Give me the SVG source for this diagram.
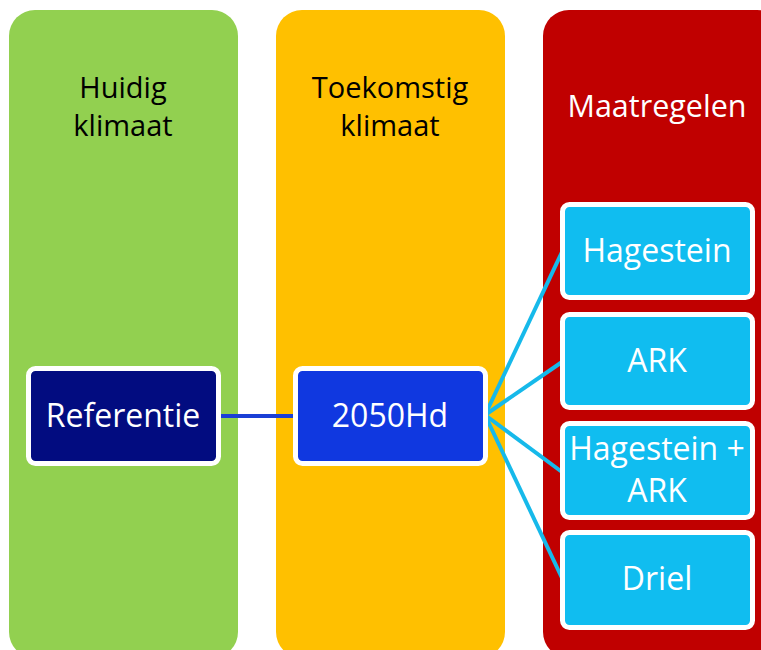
<svg xmlns="http://www.w3.org/2000/svg" width="761" height="650" viewBox="0 0 761 650">
<style>
.lane{stroke:none}
.t{font-family:"Open Sans","Noto Sans",sans-serif;text-anchor:middle}
.hd{font-size:29px;fill:#000}
.hw{font-size:30.5px;fill:#fff}
.box{stroke:#fff;stroke-width:5}
.bt{font-size:32px;fill:#fff}
.cy{stroke:#16B9EA;stroke-width:4;fill:none}
</style>
<rect width="761" height="650" fill="#fff"/>
<g id="lane-huidig">
<rect class="lane" x="9" y="10" width="229" height="648" rx="26" fill="#92D050"/>
<text class="t hd" x="123" y="98">Huidig</text>
<text class="t hd" x="123" y="136">klimaat</text>
</g>
<g id="lane-toekomstig">
<rect class="lane" x="276" y="10" width="229" height="648" rx="26" fill="#FFC000"/>
<text class="t hd" x="390" y="98">Toekomstig</text>
<text class="t hd" x="390" y="136">klimaat</text>
</g>
<g id="lane-maatregelen">
<rect class="lane" x="543" y="10" width="240" height="648" rx="26" fill="#C00000"/>
<text class="t hw" x="657" y="117">Maatregelen</text>
</g>
<g id="connectors">
<line x1="219" y1="416" x2="294" y2="416" stroke="#1A3FD6" stroke-width="4"/>
<line class="cy" x1="485" y1="415" x2="562" y2="252"/>
<line class="cy" x1="485" y1="415" x2="562" y2="362"/>
<line class="cy" x1="485" y1="415" x2="562" y2="472"/>
<line class="cy" x1="485" y1="415" x2="562" y2="578"/>
</g>
<g id="referentie">
<rect class="box" x="28.5" y="368.5" width="190" height="95" rx="7" fill="#020C80"/>
<text class="t bt" x="123" y="427">Referentie</text>
</g>
<g id="n2050hd">
<rect class="box" x="295.5" y="368.5" width="190" height="95" rx="7" fill="#1038E0"/>
<text class="t bt" x="390" y="427">2050Hd</text>
</g>
<g id="hagestein">
<rect class="box" x="562.5" y="204.5" width="190" height="93" rx="7" fill="#10BDF0"/>
<text class="t bt" x="657" y="262">Hagestein</text>
</g>
<g id="ark">
<rect class="box" x="562.5" y="314.5" width="190" height="93" rx="7" fill="#10BDF0"/>
<text class="t bt" x="657" y="372">ARK</text>
</g>
<g id="hagestein-ark">
<rect class="box" x="562.5" y="423.5" width="190" height="94" rx="7" fill="#10BDF0"/>
<text class="t bt" x="657" y="460">Hagestein +</text>
<text class="t bt" x="657" y="502">ARK</text>
</g>
<g id="driel">
<rect class="box" x="562.5" y="532.5" width="190" height="95" rx="7" fill="#10BDF0"/>
<text class="t bt" x="657" y="590">Driel</text>
</g>
</svg>
